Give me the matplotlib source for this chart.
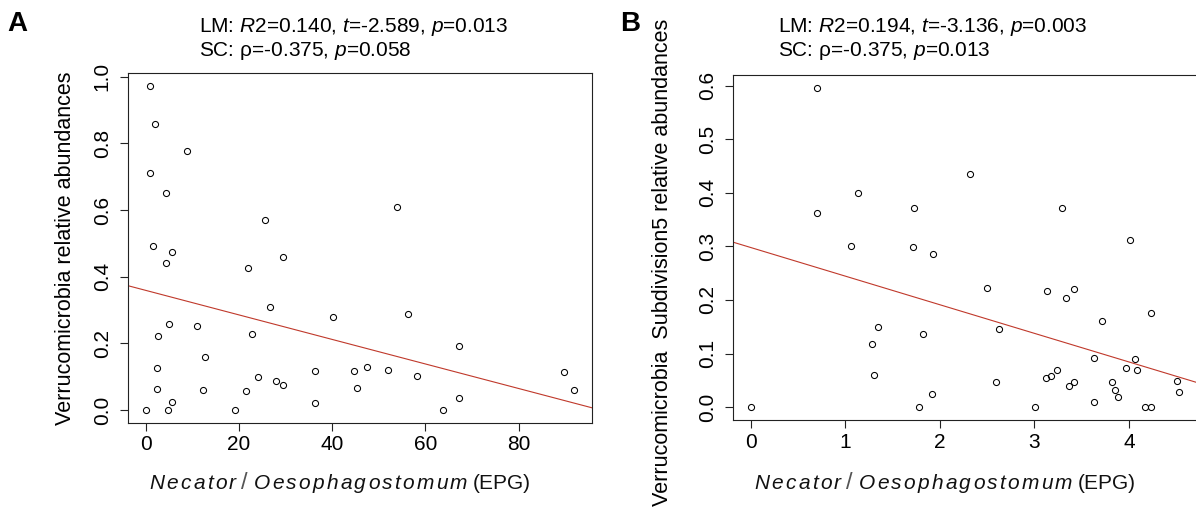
import matplotlib
matplotlib.use("Agg")
import matplotlib.pyplot as plt
from matplotlib.offsetbox import TextArea, HPacker, AnnotationBbox
import numpy as np

plt.rcParams['font.family'] = ['Liberation Sans', 'DejaVu Sans']
plt.rcParams['mathtext.fontset'] = 'custom'
plt.rcParams['mathtext.rm'] = 'Liberation Sans'
plt.rcParams['mathtext.it'] = 'Liberation Sans:italic'
plt.rcParams['mathtext.bf'] = 'Liberation Sans:bold'

# ---------------- data ----------------
a_x = [0.9, 2.1, 8.9, 0.9, 4.4, 25.6, 1.6, 5.6, 29.4, 4.4, 21.9, 26.8, 40.2, 5.0, 11.1,
       2.7, 22.9, 12.7, 2.5, 24.2, 36.4, 28.0, 29.4, 2.5, 12.4, 21.5, 5.6, 36.4, 0.0, 4.9,
       19.1, 54.0, 56.3, 67.3, 44.7, 47.5, 52.0, 58.3, 45.3, 67.3, 63.8, 89.8, 92.0]
a_y = [0.972, 0.859, 0.776, 0.710, 0.650, 0.570, 0.491, 0.473, 0.460, 0.440, 0.427, 0.309,
       0.279, 0.257, 0.251, 0.221, 0.227, 0.158, 0.125, 0.100, 0.116, 0.086, 0.075, 0.062,
       0.059, 0.056, 0.025, 0.020, 0.0, 0.0, 0.0, 0.608, 0.287, 0.193, 0.116, 0.128, 0.119,
       0.102, 0.067, 0.037, 0.001, 0.113, 0.059]
a_fit = (0.359, -0.00368)   # intercept, slope
a_xticks = [0, 20, 40, 60, 80]
a_yticks = [0.0, 0.2, 0.4, 0.6, 0.8, 1.0]
a_xlim = (-3.7, 95.7)
a_ylim = (-0.039, 1.010)

b_x = [0.0, 0.70, 0.70, 1.138, 1.731, 1.06, 1.721, 1.926, 1.343, 1.283, 1.82, 1.30, 1.915,
       1.777, 2.317, 3.296, 4.007, 2.5, 3.137, 3.331, 3.419, 4.232, 3.715, 2.627, 3.634,
       4.06, 3.97, 4.088, 4.51, 2.599, 3.12, 3.18, 3.236, 3.366, 3.419, 3.824, 3.849,
       3.887, 3.634, 4.532, 3.01, 4.173, 4.232]
b_y = [0.0, 0.595, 0.3625, 0.399, 0.3725, 0.30, 0.298, 0.285, 0.149, 0.118, 0.136, 0.06,
       0.024, 0.0, 0.435, 0.371, 0.3125, 0.223, 0.216, 0.204, 0.22, 0.175, 0.161, 0.145,
       0.092, 0.089, 0.0725, 0.069, 0.049, 0.046, 0.055, 0.058, 0.069, 0.04, 0.046, 0.046,
       0.0325, 0.019, 0.01, 0.0275, 0.0, 0.0, 0.0]
b_fit = (0.298, -0.0534)
b_xticks = [0, 1, 2, 3, 4]
b_yticks = [0.0, 0.1, 0.2, 0.3, 0.4, 0.5, 0.6]
b_xlim = (-0.184, 4.784)
b_ylim = (-0.024, 0.620)

a_stats = [r"LM: $\mathit{R2}$=0.140, $\mathit{t}$=-2.589, $\mathit{p}$=0.013",
           r"SC: ρ=-0.375, $\mathit{p}$=0.058"]
b_stats = [r"LM: $\mathit{R2}$=0.194, $\mathit{t}$=-3.136, $\mathit{p}$=0.003",
           r"SC: ρ=-0.375, $\mathit{p}$=0.013"]
a_ylabel = "Verrucomicrobia relative abundances"
b_ylabel = "Verrucomicrobia  Subdivision5 relative abundances"
xlabel_words = ["Necator", "Oesophagostomum"]
xlabel_unit = "(EPG)"

W, H = 1196, 516
fig = plt.figure(figsize=(W / 100, H / 100), dpi=100)


def px_axes(l, t, r, b):
    return fig.add_axes([l / W, 1 - b / H, (r - l) / W, (b - t) / H])


def style(ax, xs, ys, fit, xticks, yticks, xlim, ylim):
    ax.plot(xs, ys, linestyle='none', marker='o', ms=4.4, mfc='none', mec='black', mew=0.75)
    xx = np.array(xlim)
    ax.plot(xx, fit[0] + fit[1] * xx, color='#c0392b', lw=0.8)
    ax.set_xlim(*xlim)
    ax.set_ylim(*ylim)
    ax.set_xticks(xticks)
    ax.set_xticklabels([str(v) for v in xticks])
    ax.set_yticks(yticks)
    ax.set_yticklabels([f"{v:.1f}" for v in yticks])
    for s in ax.spines.values():
        s.set_linewidth(0.8)
        s.set_color('#222222')
    ax.tick_params(axis='x', direction='out', length=5.5, width=0.8, pad=3.5, labelsize=15,
                   color='#222222')
    ax.tick_params(axis='y', direction='out', length=5.5, width=0.8, pad=6.5, labelsize=15,
                   labelrotation=90, color='#222222')
    for lab in ax.get_yticklabels():
        lab.set_va('center')


def xlabel_box():
    it = dict(fontsize=15, fontstyle='italic', color='#111111')
    words = []
    for w in xlabel_words:
        words.append(HPacker(children=[TextArea(c, textprops=it) for c in w],
                             sep=1.6, pad=0, align='baseline'))
    slash = TextArea("/", textprops=dict(fontsize=17, color='#555555'))
    unit = TextArea(xlabel_unit, textprops=dict(fontsize=15, color='#111111'))
    return HPacker(children=[words[0], slash, words[1], unit], sep=4, pad=0,
                   align='baseline')


axA = px_axes(128.3, 73.3, 591.7, 423)
style(axA, a_x, a_y, a_fit, a_xticks, a_yticks, a_xlim, a_ylim)
axB = px_axes(733.3, 75, 1203, 420)
style(axB, b_x, b_y, b_fit, b_xticks, b_yticks, b_xlim, b_ylim)

# y labels
fig.text(66 / W, 1 - 248 / H, a_ylabel, rotation=90, ha='center', va='center', fontsize=15.5)
fig.text(663 / W, 1 - 262 / H, b_ylabel, rotation=90, ha='center', va='center', fontsize=15.5)

# x labels
for cx in (340, 945):
    ab = AnnotationBbox(xlabel_box(), (cx, H - 494), xycoords='figure pixels',
                        box_alignment=(0.5, 0.0), frameon=False, pad=0)
    fig.add_artist(ab)

# panel letters
fig.text(7 / W, 1 - 31 / H, "A", fontsize=20, fontweight='bold', va='baseline')
fig.text(620 / W, 1 - 31 / H, "B", fontsize=20, fontweight='bold', va='baseline')

# stats text
for i, s in enumerate(a_stats):
    fig.text(199 / W, 1 - (31.5 + 25 * i) / H, s, fontsize=15, va='baseline')
for i, s in enumerate(b_stats):
    fig.text(778 / W, 1 - (31.5 + 25 * i) / H, s, fontsize=15, va='baseline')

fig.savefig("out.png", dpi=100)
